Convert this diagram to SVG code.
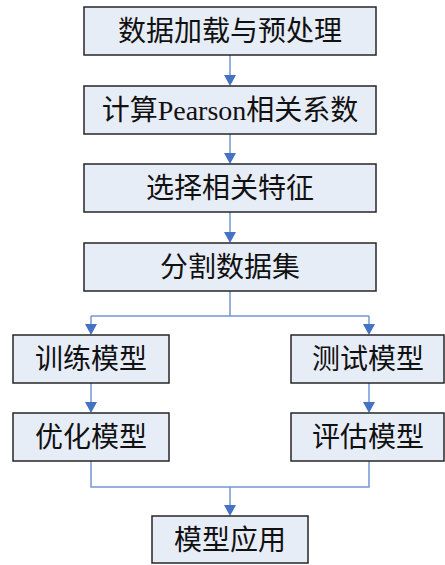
<svg xmlns="http://www.w3.org/2000/svg" width="445" height="565" viewBox="0 0 445 565">
<style>
.box{fill:#E7EDF7;stroke:#262626;stroke-width:1.5}
.t{font-family:"Liberation Serif","Noto Sans CJK SC",serif;font-size:28px;fill:#111;text-anchor:middle}
.c{fill:none;stroke:#7397D2;stroke-width:1.5}
.a{marker-end:url(#ah)}
</style>
<defs>
<marker id="ah" viewBox="0 0 11 12" refX="0" refY="6" markerWidth="11" markerHeight="12" markerUnits="userSpaceOnUse" orient="auto">
<path d="M0,0 L11,6 L0,12 Z" fill="#4472C4"/>
</marker>
</defs>
<rect width="445" height="565" fill="#fff"/>
<g id="connectors">
<path class="c a" d="M230,55 V75"/>
<path class="c a" d="M230,134 V153"/>
<path class="c a" d="M230,212 V232"/>
<path class="c" d="M230,291 V316 H91 M230,316 H369"/>
<path class="c a" d="M91,316 V324"/>
<path class="c a" d="M369,316 V324"/>
<path class="c a" d="M91,383 V402"/>
<path class="c a" d="M369,383 V402"/>
<path class="c" d="M91,461 V487 H369 V461"/>
<path class="c a" d="M230,487 V505"/>
</g>
<g id="n1"><rect class="box" x="84" y="7" width="292" height="48"/><text class="t" x="230" y="41">数据加载与预处理</text></g>
<g id="n2"><rect class="box" x="84" y="86" width="292" height="48"/><text class="t" x="230" y="120">计算Pearson相关系数</text></g>
<g id="n3"><rect class="box" x="84" y="164" width="292" height="48"/><text class="t" x="230" y="198">选择相关特征</text></g>
<g id="n4"><rect class="box" x="84" y="243" width="292" height="48"/><text class="t" x="230" y="277">分割数据集</text></g>
<g id="n5"><rect class="box" x="13" y="335" width="156" height="48"/><text class="t" x="91" y="369">训练模型</text></g>
<g id="n6"><rect class="box" x="291" y="335" width="153" height="48"/><text class="t" x="368" y="369">测试模型</text></g>
<g id="n7"><rect class="box" x="13" y="413" width="156" height="48"/><text class="t" x="91" y="447">优化模型</text></g>
<g id="n8"><rect class="box" x="291" y="413" width="153" height="48"/><text class="t" x="368" y="447">评估模型</text></g>
<g id="n9"><rect class="box" x="152" y="516" width="156" height="47"/><text class="t" x="230" y="550">模型应用</text></g>
</svg>
